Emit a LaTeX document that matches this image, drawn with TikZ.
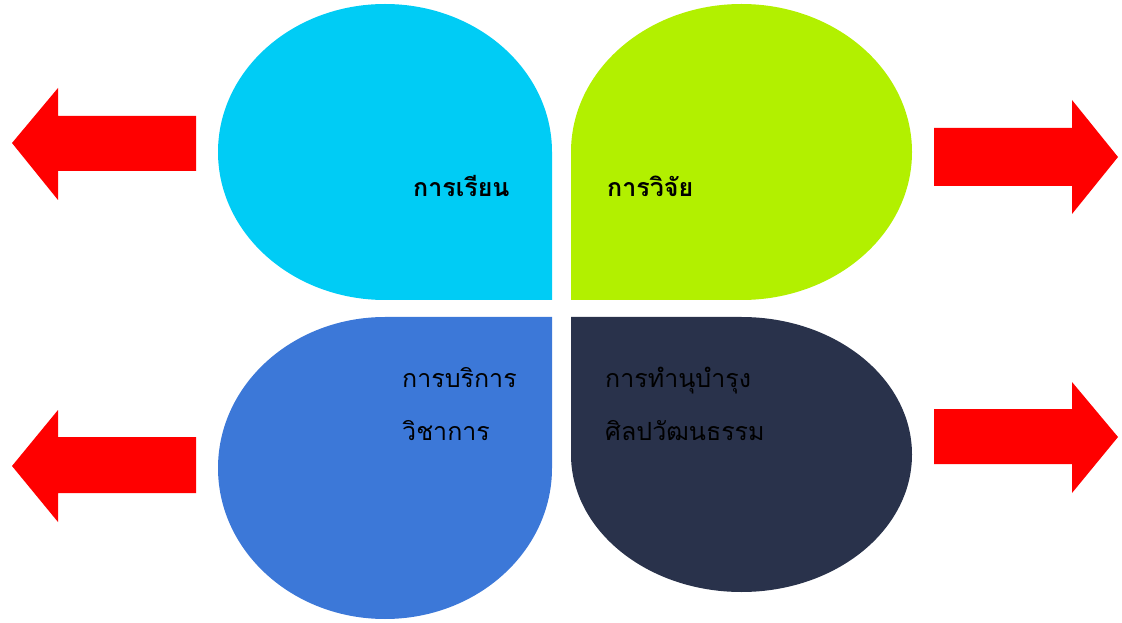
\documentclass[tikz,border=0pt]{standalone}
\usepackage{fontspec}
\newfontfamily\thaifont[Script=Thai]{Loma}
\definecolor{petalcyan}{RGB}{0,204,245}
\definecolor{petallime}{RGB}{178,240,0}
\definecolor{petalblue}{RGB}{60,120,216}
\definecolor{petaldark}{RGB}{41,50,75}
\tikzset{
  redarrow/.style={fill=red,draw=none},
  label/.style={font=\thaifont\fontsize{25}{53}\selectfont,text=black,inner sep=0pt,align=left,anchor=west}
}
\begin{document}
\begin{tikzpicture}[x=1pt,y=1pt]
        \useasboundingbox (0,0) rectangle (1122,622);
        % petals
        \fill[petalcyan] (552,322) -- (385,322) arc[start angle=270,end angle=0,x radius=167,y radius=148] -- cycle;
        \fill[petallime] (571,322) -- (571,470) arc[start angle=180,end angle=-90,x radius=170.5,y radius=148] -- cycle;
        \fill[petalblue] (552,305) -- (552,154) arc[start angle=0,end angle=-270,x radius=167,y radius=151] -- cycle;
        \fill[petaldark] (571,305) -- (741.5,305) arc[start angle=90,end angle=-180,x radius=170.5,y radius=137.5] -- cycle;
        % arrows
        \fill[redarrow] (12,479) -- (58,534) -- (58,506) -- (196,506) -- (196,451) -- (58,451) -- (58,422) -- cycle;
        \fill[redarrow] (12,156) -- (58,212) -- (58,185) -- (196,185) -- (196,129) -- (58,129) -- (58,100) -- cycle;
        \fill[redarrow] (1118,465) -- (1072,522) -- (1072,494) -- (934,494) -- (934,436) -- (1072,436) -- (1072,408) -- cycle;
        \fill[redarrow] (1118,185) -- (1072,240) -- (1072,213) -- (934,213) -- (934,158) -- (1072,158) -- (1072,129) -- cycle;
        % labels
        \node[label,font=\thaifont\bfseries\fontsize{25}{53}\selectfont] (learn) at (413,436) {การเรียน};
        \node[label,font=\thaifont\bfseries\fontsize{25}{53}\selectfont] (research) at (607,436) {การวิจัย};
        \node[label] (service) at (402,218) {การบริการ\\วิชาการ};
        \node[label] (culture) at (605,218) {การทำนุบำรุง\\ศิลปวัฒนธรรม};
      \end{tikzpicture}
\end{document}
